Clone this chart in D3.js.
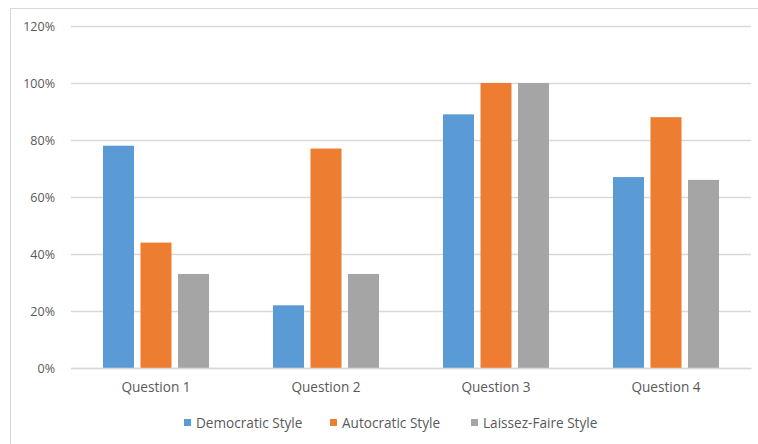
<!DOCTYPE html>
<html><head><meta charset="utf-8">
<script src="https://cdn.jsdelivr.net/npm/d3@7"></script>
<style>body{margin:0;background:#fff}svg{display:block}text{font-family:"Open Sans","Liberation Sans",sans-serif}</style>
</head><body><svg id="c" width="758" height="444"></svg>
<script>
const categories = ["Question 1","Question 2","Question 3","Question 4"];
const seriesNames = ["Democratic Style","Autocratic Style","Laissez-Faire Style"];
const democratic = [0.78,0.22,0.89,0.67];
const autocratic = [0.44,0.77,1.00,0.88];
const laissez = [0.33,0.33,1.00,0.66];
const yTicks = [0,0.2,0.4,0.6,0.8,1.0,1.2];
const colors = ["#5b9bd5","#ed7d31","#a5a5a5"];
const seriesValues = [democratic, autocratic, laissez];

const svg = d3.select("#c");
// chart border
svg.append("line").attr("x1",10.5).attr("x2",10.5).attr("y1",8).attr("y2",444).attr("stroke","#d9d9d9");
svg.append("line").attr("x1",10).attr("x2",758).attr("y1",8.5).attr("y2",8.5).attr("stroke","#d9d9d9");

const x = d3.scaleBand().domain(categories).range([71,751]);
const xs = d3.scaleBand().domain(seriesNames).range([0,x.bandwidth()]).paddingInner(0.173).paddingOuter(0.853);
const y = d3.scaleLinear().domain([0,1.2]).range([368,26]);

const yAxis = svg.append("g").attr("transform","translate(71,0)")
  .call(d3.axisLeft(y).tickValues(yTicks).tickFormat(d3.format(".0%")).tickSize(-680).tickPadding(16));
yAxis.select(".domain").remove();
yAxis.selectAll(".tick line").attr("stroke","#d9d9d9").attr("stroke-width",1.3);
yAxis.selectAll(".tick text").attr("fill","#595959").style("font-size","12.5px");

seriesNames.forEach((s,i)=>{
  svg.append("g").selectAll("rect").data(categories).join("rect")
    .attr("x",c=>x(c)+xs(s))
    .attr("width",xs.bandwidth())
    .attr("y",(c,j)=>y(seriesValues[i][j]))
    .attr("height",(c,j)=>y(0)-y(seriesValues[i][j]))
    .attr("fill",colors[i]);
});

const xAxis = svg.append("g").attr("transform","translate(0,368)")
  .call(d3.axisBottom(x).tickSize(0).tickPadding(14));
xAxis.select(".domain").attr("stroke","#d9d9d9").attr("stroke-width",1.3);
xAxis.selectAll(".tick text").attr("fill","#595959").style("font-size","13.6px");

const legX = [184,330,471];
const leg = svg.append("g");
seriesNames.forEach((s,i)=>{
  leg.append("rect").attr("x",legX[i]).attr("y",419).attr("width",7).attr("height",7).attr("fill",colors[i]);
  leg.append("text").attr("x",legX[i]+12).attr("y",428).attr("fill","#595959").style("font-size","13.6px").text(s);
});
</script></body></html>
